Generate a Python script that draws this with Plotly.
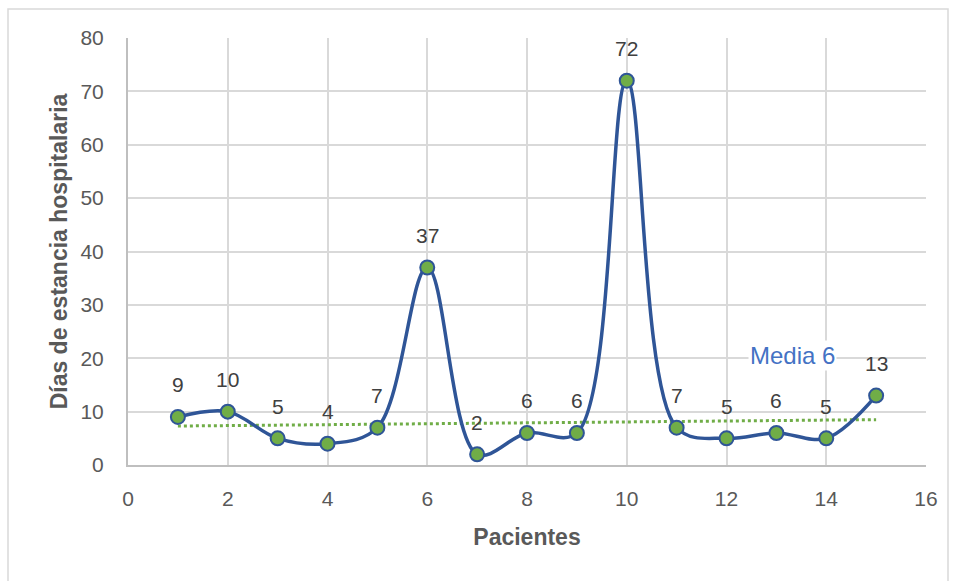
import plotly.graph_objects as go

pacientes = list(range(1, 16))
dias = [9, 10, 5, 4, 7, 37, 2, 6, 6, 72, 7, 5, 6, 5, 13]
trend_x = [1, 15]
trend_y = [7.3, 8.5]
media_label = "Media 6"
media_pos = (13.33, 20.6)

x_ticks = list(range(0, 17, 2))
y_ticks = list(range(0, 81, 10))

FONT = "Liberation Sans"
fig = go.Figure()

fig.add_trace(go.Scatter(
    x=trend_x, y=trend_y, mode="lines",
    line=dict(color="#70AD47", width=3, dash="dot"),
    hoverinfo="skip", showlegend=False))

fig.add_trace(go.Scatter(
    x=pacientes, y=dias, mode="lines+markers",
    line=dict(color="#2F5597", width=3.5, shape="spline", smoothing=1),
    marker=dict(size=14, color="#70AD47", line=dict(color="#2F5597", width=2)),
    showlegend=False))

for xv, yv in zip(pacientes, dias):
    fig.add_annotation(x=xv, y=yv, text=str(yv), showarrow=False,
                       yshift=32, font=dict(family=FONT, size=21, color="#404040"))

fig.add_annotation(x=media_pos[0], y=media_pos[1], text=media_label, showarrow=False,
                   bgcolor="white", font=dict(family=FONT, size=24, color="#4472C4"))

# chart border
fig.add_shape(type="rect", xref="paper", yref="paper",
              x0=(8 - 128) / 798, x1=(948 - 128) / 798,
              y0=(465 - 590) / 427, y1=(465 - 9) / 427,
              line=dict(color="#D9D9D9", width=1.5), layer="below")

fig.update_xaxes(range=[0, 16], tickvals=x_ticks, showgrid=True, gridcolor="#D9D9D9",
                 gridwidth=1.5, zeroline=False, showline=True, linecolor="#BFBFBF",
                 linewidth=2, mirror=False, ticks="", ticklen=0, ticklabelstandoff=14,
                 tickfont=dict(family=FONT, size=21, color="#595959"),
                 title=dict(text="<b>Pacientes</b>", standoff=20,
                            font=dict(family=FONT, size=23, color="#595959")))
fig.update_yaxes(range=[0, 80], tickvals=y_ticks, showgrid=True, gridcolor="#D9D9D9",
                 gridwidth=1.5, zeroline=False, showline=True, linecolor="#BFBFBF",
                 linewidth=2, ticks="", ticklen=0, ticklabelstandoff=18,
                 tickfont=dict(family=FONT, size=21, color="#595959"),
                 title=dict(text="<b>Días de estancia hospitalaria</b>", standoff=6,
                            font=dict(family=FONT, size=23, color="#595959")))

fig.update_layout(width=956, height=581, margin=dict(l=128, r=30, t=38, b=116),
                  plot_bgcolor="white", paper_bgcolor="white")

fig.write_html("out.html")
